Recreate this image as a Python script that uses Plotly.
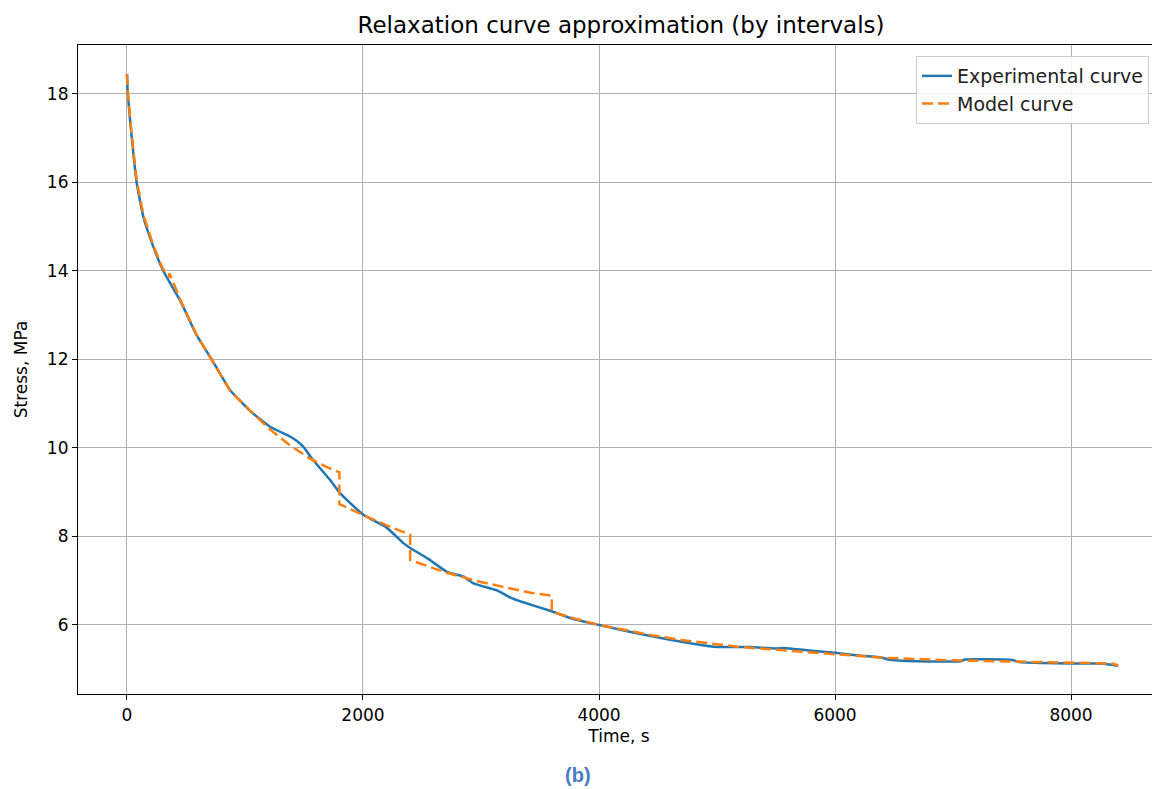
import plotly.graph_objects as go

# Experimental curve
exp_t = [0, 7, 40, 82, 138, 223, 308, 449, 590, 718, 873, 1042, 1212, 1381, 1440, 1490, 1530, 1565,
         1720, 1805, 2003, 2200, 2342, 2400, 2550, 2711, 2853, 2937, 3135, 3250, 3350, 3585,
         3800, 4003, 4200, 4460, 4700, 4970, 5280, 5500, 5565, 5650, 5800, 6000, 6200, 6400,
         6450, 6700, 7065, 7100, 7500, 7560, 7750, 8000, 8260, 8400]
exp_s = [18.45, 18.0, 17.03, 16.0, 15.23, 14.55, 14.0, 13.34, 12.55, 12.0, 11.31, 10.84, 10.48,
         10.26, 10.16, 10.04, 9.9, 9.77, 9.28, 8.98, 8.49, 8.2, 7.85, 7.74, 7.5, 7.2, 7.09, 6.94,
         6.78, 6.62, 6.52, 6.32, 6.12, 6.0, 5.88, 5.74, 5.62, 5.51, 5.5, 5.47, 5.48, 5.46, 5.42,
         5.37, 5.31, 5.26, 5.22, 5.18, 5.18, 5.22, 5.21, 5.16, 5.14, 5.13, 5.13, 5.08]

# Model curve (by intervals, joined)
mod_t = [0, 10, 40, 82, 138, 223, 300, 355, 360, 450, 590, 718, 873, 1042, 1212, 1381, 1550,
         1700, 1800, 1800, 2003, 2200, 2400, 2400, 2600, 2711, 3000, 3200, 3418, 3600, 3600,
         3800, 4000, 4200, 4460, 4700, 5000, 5200, 5600, 6000, 6400, 7000, 7500, 8000, 8340, 8400]
mod_s = [18.45, 17.95, 17.08, 16.06, 15.28, 14.58, 14.07, 13.86, 13.95, 13.36, 12.56, 12.0, 11.3,
         10.85, 10.42, 10.06, 9.76, 9.56, 9.45, 8.73, 8.49, 8.25, 8.04, 7.47, 7.28, 7.18, 6.97,
         6.85, 6.73, 6.66, 6.30, 6.14, 6.0, 5.9, 5.76, 5.66, 5.56, 5.5, 5.42, 5.34, 5.26, 5.2,
         5.17, 5.14, 5.13, 5.09]

x_ticks = [0, 2000, 4000, 6000, 8000]
y_ticks = [6, 8, 10, 12, 14, 16, 18]

fig = go.Figure()
fig.add_trace(go.Scatter(x=exp_t, y=exp_s, mode="lines", name="Experimental curve",
                         line=dict(color="#1f77b4", width=2.5, shape="spline", smoothing=0.4)))
fig.add_trace(go.Scatter(x=mod_t, y=mod_s, mode="lines", name="Model curve",
                         line=dict(color="#ff7f0e", width=2.5, dash="11px,5px")))

font = "DejaVu Sans, Verdana, sans-serif"
axis_common = dict(showgrid=True, gridcolor="#b0b0b0", gridwidth=1, zeroline=False,
                   showline=True, linecolor="black", linewidth=1.2,
                   ticks="outside", ticklen=5, tickcolor="black",
                   tickfont=dict(family=font, size=17, color="#000"))

# page body has an 8px margin: the figure is sized/offset to compensate
fig.update_layout(
    width=1152, height=781,
    paper_bgcolor="white", plot_bgcolor="white",
    margin=dict(l=70, r=0, t=37, b=95),
    title=dict(text="Relaxation curve approximation (by intervals)",
               font=dict(family=font, size=23, color="#000"),
               xref="container", x=(621 - 8) / 1152, xanchor="center",
               y=1 - 17 / 781, yanchor="middle"),
    xaxis=dict(range=[-415, 8754], tickvals=x_ticks, mirror=True,
               title=dict(text="Time, s", font=dict(family=font, size=17, color="#000"), standoff=6),
               **axis_common),
    yaxis=dict(range=[4.44, 19.107], tickvals=y_ticks,
               title=dict(text="Stress, MPa", font=dict(family=font, size=17, color="#000"), standoff=14),
               **axis_common),
    legend=dict(x=(1149 - 78) / 1082, y=0.983, xanchor="right", yanchor="top",
                bgcolor="rgba(255,255,255,0.85)", bordercolor="#cccccc", borderwidth=1,
                font=dict(family=font, size=19, color="#222"), tracegroupgap=2),
    showlegend=True,
)

fig.add_annotation(text="<b>(b)</b>", xref="paper", yref="paper",
                   x=(578 - 78) / 1082, y=-(775 - 694) / 649,
                   xanchor="center", yanchor="middle", showarrow=False,
                   font=dict(family="Liberation Sans, Arial, sans-serif", size=20, color="#4a7cc2"))

fig.write_html("out.html")
